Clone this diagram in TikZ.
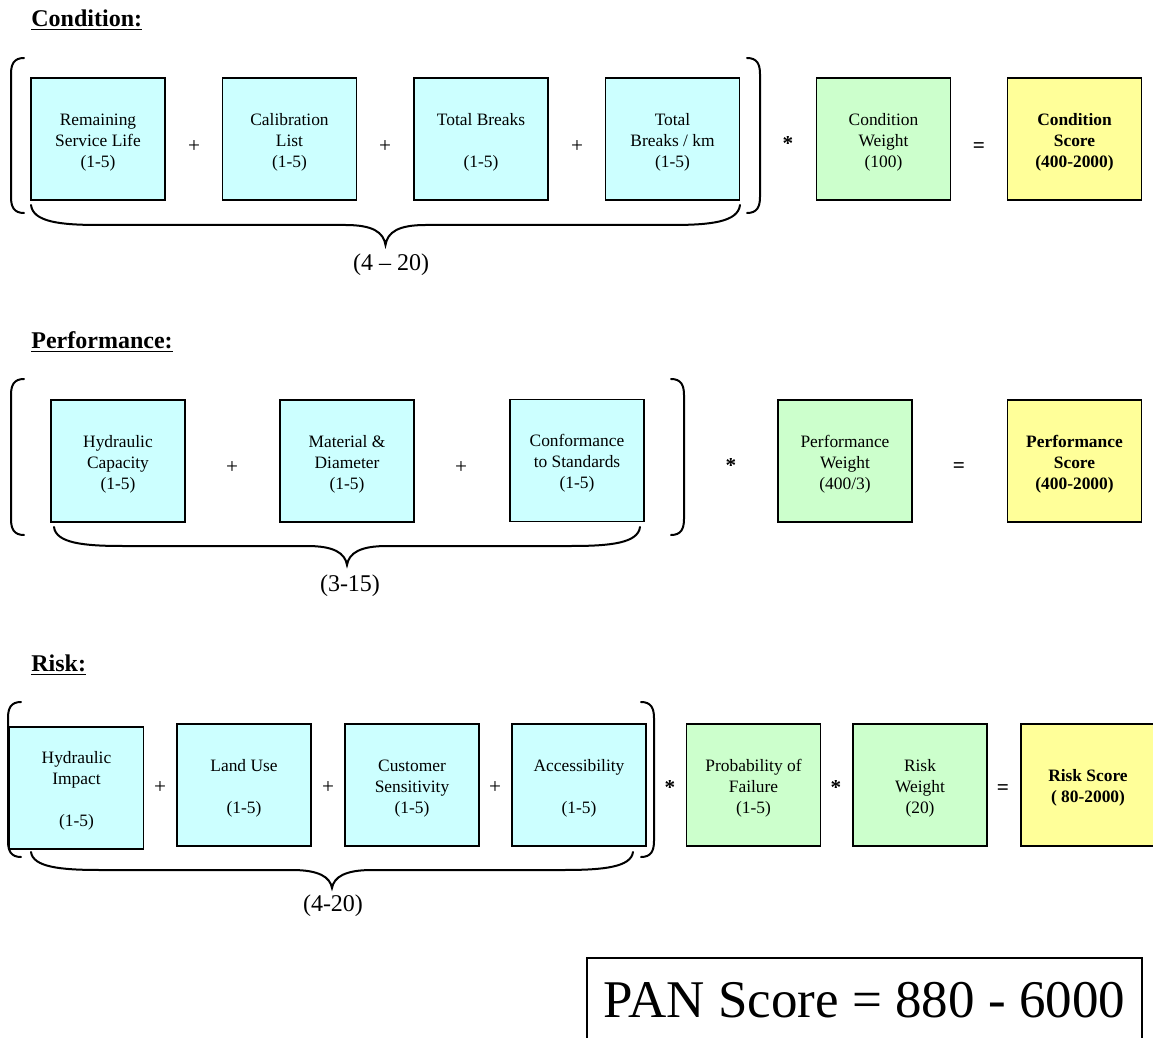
\documentclass[tikz,border=0pt]{standalone}
\usepackage{fontspec}
\setmainfont{Liberation Serif}
\usetikzlibrary{calc}

\definecolor{factorcyan}{HTML}{CCFFFF}
\definecolor{weightgreen}{HTML}{CCFFCC}
\definecolor{scoreyellow}{HTML}{FFFF99}

\newcommand{\tallstrut}{\rule{0pt}{9pt}}

\tikzset{
  factor/.style={draw, line width=0.9pt, fill=factorcyan, minimum width=67pt,
    minimum height=61pt, inner sep=0pt, align=center,
    font=\fontsize{8.7}{10.5}\selectfont},
  weight/.style={factor, fill=weightgreen},
  score/.style={factor, fill=scoreyellow, font=\fontsize{8.7}{10.5}\selectfont\bfseries},
  op/.style={inner sep=0pt, font=\fontsize{10.6}{12}\selectfont},
  heading/.style={anchor=west, inner sep=0pt, font=\fontsize{12}{14}\selectfont\bfseries},
  sumrange/.style={inner sep=0pt, font=\fontsize{12}{14}\selectfont},
  paren line/.style={line width=1pt, line cap=round},
}

% ( ... ) round a sum: left x, right x, top y, bottom y
\newcommand{\sumparens}[4]{%
  \draw[paren line] ({#1+13},#3) .. controls ({#1+3},#3) and (#1,{#3+6}) .. (#1,{#3+16})
    -- (#1,{#4-16}) .. controls (#1,{#4-6}) and ({#1+3},#4) .. ({#1+13},#4);
  \draw[paren line] ({#2-13},#3) .. controls ({#2-3},#3) and (#2,{#3+6}) .. (#2,{#3+16})
    -- (#2,{#4-16}) .. controls (#2,{#4-6}) and ({#2-3},#4) .. ({#2-13},#4);}

% brace under a sum: left x, right x, top y, depth
\newcommand{\sumbrace}[4]{%
  \pgfmathsetmacro\bmid{(#1+#2)/2}
  \pgfmathsetmacro\bhalf{#4/2}
  \draw[paren line] (#1,#3) .. controls ({#1+2},{#3+\bhalf-3}) and ({#1+29},{#3+\bhalf}) .. ({#1+69},{#3+\bhalf})
    -- ({\bmid-40},{#3+\bhalf}) .. controls ({\bmid-13},{#3+\bhalf}) and ({\bmid-2},{#3+\bhalf+7}) .. (\bmid,{#3+#4})
    .. controls ({\bmid+2},{#3+\bhalf+7}) and ({\bmid+13},{#3+\bhalf}) .. ({\bmid+40},{#3+\bhalf})
    -- ({#2-69},{#3+\bhalf}) .. controls ({#2-29},{#3+\bhalf}) and ({#2-2},{#3+\bhalf-3}) .. (#2,#3);}

\begin{document}
\begin{tikzpicture}[x=0.5pt, y=-0.5pt]
  \useasboundingbox (0,0) rectangle (1153,1038);

  \node[heading] (condhead) at (31,20) {\underline{Condition:}};
  \node[factor] (rsl)   at (98,139)    {\tallstrut Remaining\\Service Life\\(1-5)};
  \node[factor] (calib) at (289.5,139) {\tallstrut Calibration\\List\\(1-5)};
  \node[factor] (tbrk)  at (481,139)   {\tallstrut Total Breaks\\ \\(1-5)};
  \node[factor] (tbkm)  at (672.5,139) {\tallstrut Total\\Breaks / km\\(1-5)};
  \node[weight] (condw) at (883.5,139) {\tallstrut Condition\\Weight\\(100)};
  \node[score]  (conds) at (1074.5,139) {\tallstrut Condition\\Score\\(400-2000)};
  \node[op] (cp1) at (194,147) {+};
  \node[op] (cp2) at (385,147) {+};
  \node[op] (cp3) at (577,147) {+};
  \node[op] (cm1) at (788,144) {\bfseries *};
  \node[op] (ceq) at (979,148) {\bfseries =};
  \sumparens{11}{760}{58}{213}
  \sumbrace{31}{740}{205}{40}
  \node[sumrange] (crange) at (391,265) {(4 -- 20)};

  \node[heading] (perfhead) at (31,342) {\underline{Performance:}};
  \node[factor] (hcap)  at (118,461)   {\tallstrut Hydraulic\\Capacity\\(1-5)};
  \node[factor] (matd)  at (347,461)   {\tallstrut Material \&\\Diameter\\(1-5)};
  \node[factor] (conf)  at (577,460.5) {\tallstrut Conformance\\to Standards\\(1-5)};
  \node[weight] (perfw) at (845,461)   {\tallstrut Performance\\Weight\\(400/3)};
  \node[score]  (perfs) at (1074.5,461) {\tallstrut Performance\\Score\\(400-2000)};
  \node[op] (pp1) at (232,468) {+};
  \node[op] (pp2) at (461,468) {+};
  \node[op] (pm1) at (731,466) {\bfseries *};
  \node[op] (peq) at (959,468) {\bfseries =};
  \sumparens{11}{684}{379}{535}
  \sumbrace{54}{640}{527}{38}
  \node[sumrange] (prange) at (350,586) {(3-15)};

  \node[heading] (riskhead) at (31,665) {\underline{Risk:}};
  \node[factor] (himp)  at (76.5,788) {\tallstrut Hydraulic\\Impact\\ \\(1-5)};
  \node[factor] (land)  at (244,785)  {\tallstrut Land Use\\ \\(1-5)};
  \node[factor] (cust)  at (412,785)  {\tallstrut Customer\\Sensitivity\\(1-5)};
  \node[factor] (acc)   at (579,785)  {\tallstrut Accessibility\\ \\(1-5)};
  \node[weight] (pof)   at (753.5,785) {\tallstrut Probability of\\Failure\\(1-5)};
  \node[weight] (riskw) at (920,785)  {\tallstrut Risk\\Weight\\(20)};
  \node[score]  (risks) at (1088,785) {\tallstrut Risk Score\\( 80-2000)};
  \node[op] (rp1) at (160,788) {+};
  \node[op] (rp2) at (328,788) {+};
  \node[op] (rp3) at (495,788) {+};
  \node[op] (rm1) at (670,788) {\bfseries *};
  \node[op] (rm2) at (836,788) {\bfseries *};
  \node[op] (req) at (1003,790) {\bfseries =};
  \sumparens{8}{654}{702}{857}
  \sumbrace{31}{633}{852}{36}
  \node[sumrange] (rrange) at (333,906) {(4-20)};

  \node[draw, line width=0.9pt, minimum width=277.5pt, minimum height=42pt,
    font=\fontsize{26.5}{28}\selectfont] (pan) at (864.5,1000) {PAN Score = 880 - 6000};
\end{tikzpicture}
\end{document}
